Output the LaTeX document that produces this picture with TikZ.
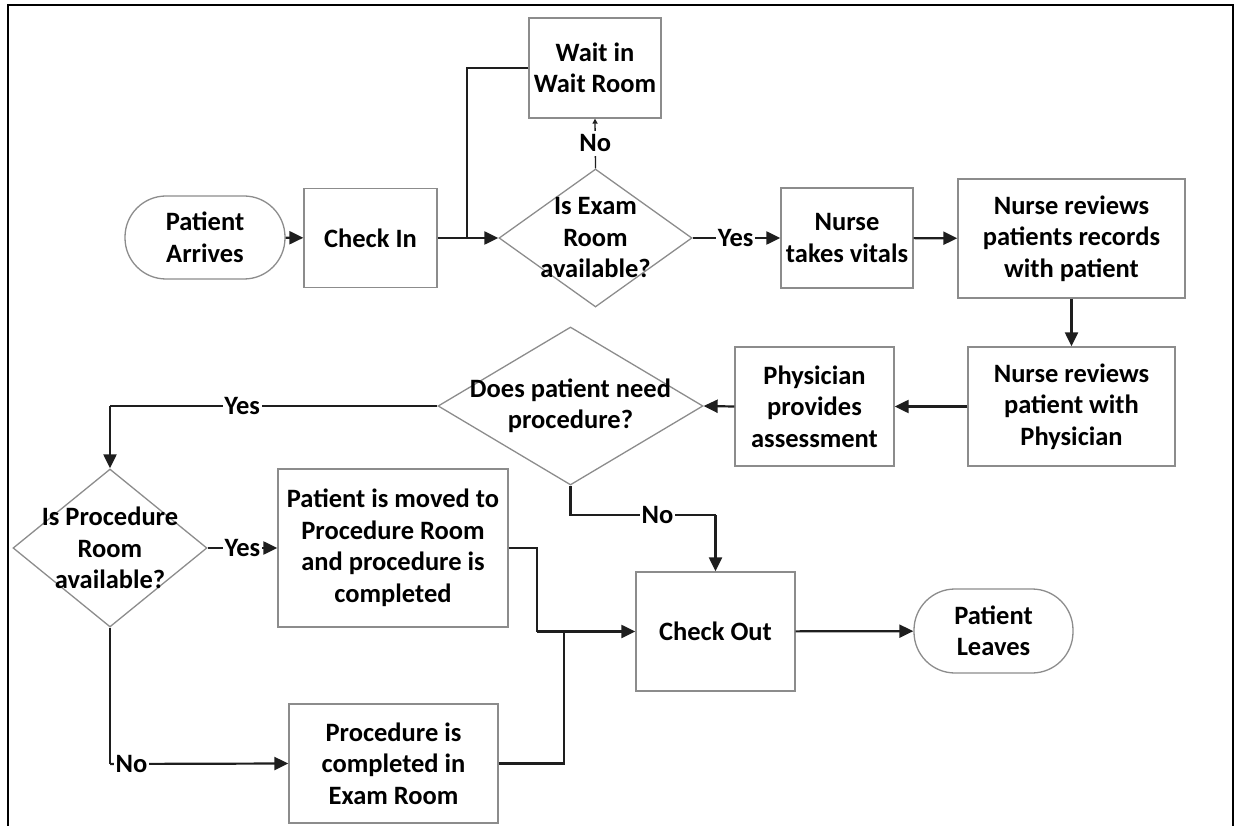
\documentclass[tikz,border=0pt]{standalone}
\usepackage{fontspec}
\setmainfont{Carlito}
\usetikzlibrary{shapes.geometric,arrows.meta}
\definecolor{boxgray}{HTML}{8C8C8C}
\definecolor{linecol}{HTML}{1E1E1E}
\begin{document}
\begin{tikzpicture}[x=1pt,y=-1pt,
  every node/.style={font=\fontsize{26.5}{31.5}\selectfont\bfseries, text=black},
  box/.style={draw=boxgray, line width=1.3pt, rectangle, align=center, inner sep=0pt},
  term/.style={box, rounded corners=41pt},
  dia/.style={draw=boxgray, line width=1.3pt, diamond, inner sep=0pt},
  conn/.style={draw=linecol, line width=2.2pt},
  arr/.style={conn, -{Triangle[length=14pt,width=13pt]}},
  lbl/.style={fill=white, inner xsep=1.5pt, inner ysep=0pt},
]
\useasboundingbox (0,0) rectangle (1235,826);
\draw[line width=2pt, black] (8,826) -- (8,5) -- (1233,5) -- (1233,826);

% nodes
\node[term, minimum width=160, minimum height=83] (arrive) at (205,237.5) {Patient\\Arrives};
\node[box, minimum width=133, minimum height=99] (checkin) at (370.5,238) {Check In};
\node[box, minimum width=132, minimum height=100] (wait) at (595,68) {Wait in\\Wait Room};
\node[dia, minimum width=193, minimum height=138,
      label={[align=center]center:Is Exam\\Room\\available?}] (exam) at (595.5,238) {};
\node[box, minimum width=132, minimum height=100] (vitals) at (847,238) {Nurse\\takes vitals};
\node[box, minimum width=227, minimum height=119] (records) at (1071.5,238.5) {Nurse reviews\\patients records\\with patient};
\node[box, minimum width=207, minimum height=119] (nursephys) at (1071.5,406.5) {Nurse reviews\\patient with\\Physician};
\node[box, minimum width=159, minimum height=119] (phys) at (814.5,406.5) {Physician\\provides\\assessment};
\node[dia, minimum width=265, minimum height=158,
      label={[align=center]center:Does patient need\\procedure?}] (need) at (570.5,406) {};
\node[dia, minimum width=194, minimum height=158,
      label={[align=center]center:Is Procedure\\Room\\available?}] (procq) at (110,548) {};
\node[box, minimum width=230, minimum height=158] (moved) at (393,548) {Patient is moved to\\Procedure Room\\and procedure is\\completed};
\node[box, minimum width=209, minimum height=119] (procdone) at (393.5,763.5) {Procedure is\\completed in\\Exam Room};
\node[box, minimum width=159, minimum height=119] (checkout) at (715.5,631.5) {Check Out};
\node[term, minimum width=159, minimum height=84] (leaves) at (993.5,631) {Patient\\Leaves};

% junction coordinates
\coordinate (j0) at (467,238);
\coordinate (j1) at (537,631.5);
\coordinate (j2) at (564,631.5);
\coordinate (nj) at (715.5,515);
\coordinate (yj) at (110,406);
\coordinate (nj2) at (110,764);

% connectors
\draw[arr] (arrive) -- (checkin);
\draw[arr] (checkin) -- (exam);
\draw[conn] (wait.west) -| (j0);
\draw[draw=linecol, line width=1.3pt, -{Triangle[length=5pt,width=5pt]}] (exam.north) -- node[lbl, inner ysep=4pt]{No} (wait.south);
\draw[arr] (exam.east) -- node[lbl, pos=0.49]{Yes} (vitals.west);
\draw[arr] (vitals) -- (records);
\draw[arr] (records) -- (nursephys);
\draw[arr] (nursephys) -- (phys);
\draw[arr] (phys.west) -- (need.east);
\draw[conn] (need.west) -- node[lbl, pos=0.596]{Yes} (yj);
\draw[arr] (yj) -- (procq.north);
\draw[conn] (need.south) |- node[lbl, pos=0.8]{No} (nj);
\draw[arr] (nj) -- (checkout.north);
\draw[arr] (procq.east) -- node[lbl, pos=0.5]{Yes} (moved.west);
\draw[conn] (procq.south) -- (nj2);
\draw[arr] (nj2) -- node[lbl, pos=0.12]{No} (procdone.west);
\draw[conn] (moved.east) -| (j1);
\draw[conn] (procdone.east) -| (j2);
\draw[arr] (j1) -- (checkout.west);
\draw[arr] (checkout) -- (leaves);
\end{tikzpicture}
\end{document}
